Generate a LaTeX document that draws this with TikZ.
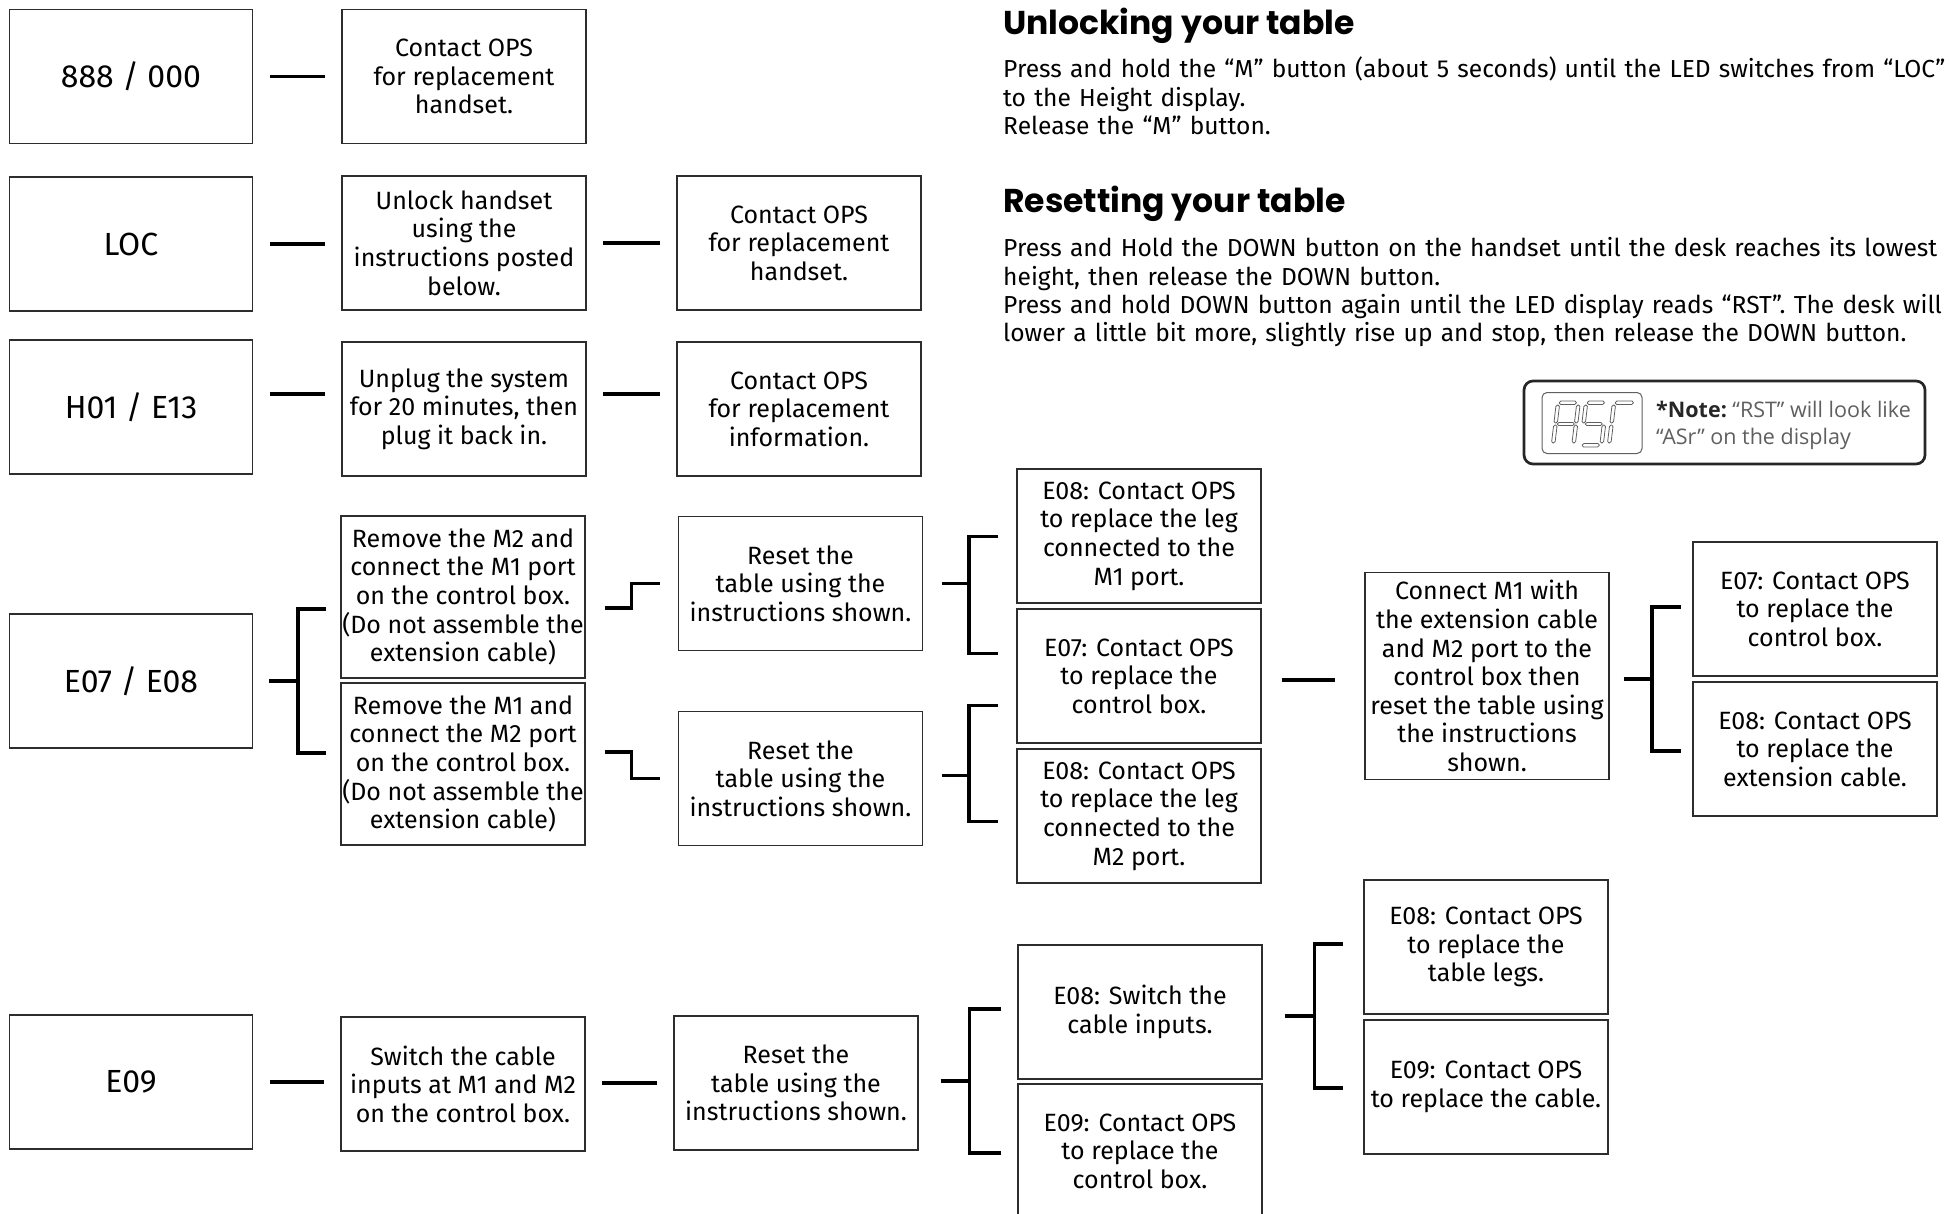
\documentclass[tikz,border=0pt]{standalone}
\usepackage{fontspec}
\setmainfont{Fira Sans}
\newfontfamily\notefont{Open Sans}
\newfontfamily\headfont{Poppins}
\usetikzlibrary{positioning,calc}

\begin{document}
\begin{tikzpicture}[x=1pt, y=-1pt,
    code/.style={draw=boxline, line width=1.3pt, minimum width=243pt, minimum height=134pt, inner sep=0pt, font=\fontsize{32}{36}\selectfont},
    task/.style={draw=boxline, line width=1.3pt, minimum width=244pt, minimum height=134pt, inner sep=0pt, align=center, font=\fontsize{25}{28.6}\selectfont},
    link/.style={line width=3.5pt, shorten <=16.5pt, shorten >=16.5pt},
    fork/.style={line width=3.5pt},
    head/.style={anchor=base west, inner sep=0pt, font=\headfont\bfseries\fontsize{33}{38}\selectfont},
    para/.style={anchor=base west, text width=1000pt, align=left, inner sep=0pt, font=\fontsize{24.6}{28.2}\selectfont}]
    % Colori
    \definecolor{boxline}{RGB}{45,45,45}
    \definecolor{notegray}{RGB}{95,95,95}

    \useasboundingbox (0,0) rectangle (1950,1214);

    % Codice 888 / 000
    \node[code] (c888) at (131,76.5) {888 / 000};
    \node[task] (ops888) at (464,76.5) {Contact OPS\\for replacement\\handset.};
    \draw[link] (c888.east) -- (c888.east -| ops888.west);

    % Codice LOC
    \node[code] (loc) at (131,244) {LOC};
    \node[task] (unlock) at (464,243) {Unlock handset\\using the\\instructions posted\\below.};
    \node[task] (opsloc) at (799,243) {Contact OPS\\for replacement\\handset.};
    \draw[link] (loc.east) -- (loc.east -| unlock.west);
    \draw[link] (unlock.east) -- (unlock.east -| opsloc.west);

    % Codice H01 / E13
    \node[code] (h01) at (131,407) {H01 / E13};
    \node[task] (unplug) at (464,409) {Unplug the system\\for 20 minutes, then\\plug it back in.};
    \node[task] (opsh01) at (799,409) {Contact OPS\\for replacement\\information.};
    \draw[link] ([yshift=13pt]h01.east) -- ([yshift=13pt]h01.east -| unplug.west);
    \draw[link] ([yshift=15pt]unplug.east) -- ([yshift=15pt]unplug.east -| opsh01.west);

    % Codice E07 / E08
    \node[code] (e0708) at (131,681) {E07 / E08};
    \node[task, minimum height=162pt] (rmM2) at (463,597) {Remove the M2 and\\connect the M1 port\\on the control box.\\(Do not assemble the\\extension cable)};
    \node[task, minimum height=162pt] (rmM1) at (463,764) {Remove the M1 and\\connect the M2 port\\on the control box.\\(Do not assemble the\\extension cable)};
    \draw[fork] ([xshift=16pt]e0708.east) -- ++(29,0) coordinate (j0708);
    \draw[fork] ($(j0708)+(28,-72)$) -- ++(-28,0) -- ++(0,144) -- ++(28,0);

    \node[task] (rst1) at (800.5,583.5) {Reset the\\table using the\\instructions shown.};
    \node[task] (rst2) at (800.5,778.5) {Reset the\\table using the\\instructions shown.};
    \draw[fork] ([xshift=19pt,yshift=-11pt]rmM2.east) -- ++(27,0) |- ([xshift=-18pt]rst1.west);
    \draw[fork] ([xshift=19pt,yshift=12pt]rmM1.east) -- ++(27,0) |- ([xshift=-18pt]rst2.west);

    \node[task] (legM1) at (1139,536) {E08: Contact OPS\\to replace the leg\\connected to the\\M1 port.};
    \node[task] (ctrl) at (1139,676) {E07: Contact OPS\\to replace the\\control box.};
    \node[task] (legM2) at (1139,816) {E08: Contact OPS\\to replace the leg\\connected to the\\M2 port.};
    \draw[fork] ([xshift=19pt]rst1.east) -- ++(27,0) coordinate (jr1);
    \draw[fork] ($(jr1)+(29,-47)$) -- ++(-29,0) -- ++(0,117) -- ++(29,0);
    \draw[fork] ([xshift=19pt,yshift=3pt]rst2.east) -- ++(27,0) coordinate (jr2);
    \draw[fork] ($(jr2)+(29,-70)$) -- ++(-29,0) -- ++(0,116) -- ++(29,0);

    \node[task, minimum height=207pt] (conn) at (1487,676) {Connect M1 with\\the extension cable\\and M2 port to the\\control box then\\reset the table using\\the instructions\\shown.};
    \draw[link, shorten <=20pt, shorten >=29pt] ([yshift=-4pt]ctrl.east) -- ([yshift=-4pt]ctrl.east -| conn.west);

    \node[task] (ctrlE07) at (1815,609) {E07: Contact OPS\\to replace the\\control box.};
    \node[task] (extE08) at (1815,749) {E08: Contact OPS\\to replace the\\extension cable.};
    \draw[fork] ([xshift=14pt,yshift=-3pt]conn.east) -- ++(28.5,0) coordinate (jc);
    \draw[fork] ($(jc)+(28.5,-72)$) -- ++(-28.5,0) -- ++(0,144) -- ++(28.5,0);

    % Codice E09
    \node[code] (e09) at (131,1082) {E09};
    \node[task] (swap) at (463,1084) {Switch the cable\\inputs at M1 and M2\\on the control box.};
    \node[task] (rst3) at (796,1083) {Reset the\\table using the\\instructions shown.};
    \draw[link] (e09.east) -- (e09.east -| swap.west);
    \draw[link] (rst3.west -| swap.east) -- (rst3.west);

    \node[task] (swE08) at (1140,1012) {E08: Switch the\\cable inputs.};
    \node[task] (ctrlE09) at (1140,1151) {E09: Contact OPS\\to replace the\\control box.};
    \draw[fork] ([xshift=22pt,yshift=2pt]rst3.east) -- ++(29,0) coordinate (jr3);
    \draw[fork] ($(jr3)+(31,-72)$) -- ++(-31,0) -- ++(0,144) -- ++(31,0);

    \node[task] (legs) at (1486,947) {E08: Contact OPS\\to replace the\\table legs.};
    \node[task] (cable) at (1486,1087) {E09: Contact OPS\\to replace the cable.};
    \draw[fork] ([xshift=22pt,yshift=-4pt]swE08.east) -- ++(30,0) coordinate (js);
    \draw[fork] ($(js)+(28,-72)$) -- ++(-28,0) -- ++(0,144) -- ++(28,0);

    % Istruzioni
    \node[head] (unlockhead) at (1003,35) {Unlocking your table};
    \node[para] (unlocktext) at (1003,78) {Press and hold the “M” button (about 5 seconds) until the LED switches from “LOC”\\to the Height display.\\Release the “M” button.};
    \node[head] (resethead) at (1003,213) {Resetting your table};
    \node[para] (resettext) at (1003,257) {Press and Hold the DOWN button on the handset until the desk reaches its lowest\\height, then release the DOWN button.\\Press and hold DOWN button again until the LED display reads “RST”. The desk will\\lower a little bit more, slightly rise up and stop, then release the DOWN button.};

    % Nota display
    \node[draw=black!85, line width=2.7pt, rounded corners=9pt, minimum width=401pt, minimum height=83pt] (note) at (1724.5,422.5) {};
    \node[draw=notegray, line width=1pt, rounded corners=5pt, minimum width=100pt, minimum height=61pt] (disp) at (1592,423) {};
    \begin{scope}[shift={(1551,447)}, xslant=0.12, color=notegray, line width=0.8pt, rounded corners=1.5pt]
        \foreach \xa/\ya/\xb/\yb in {3/-46/20/-42.5, 20.5/-42/24/-24, 20.5/-22/24/-4, 0/-22/3.5/-4, 0/-42/3.5/-24, 3.5/-24.5/20.5/-21.5,
            31/-46/48/-42.5, 28/-42/31.5/-24, 31.5/-24.5/48.5/-21.5, 48.5/-22/52/-4, 31/-3.5/48/0,
            59/-46/77/-42.5, 56/-42/59.5/-24, 56/-22/59.5/-4}
            \draw (\xa,\ya) rectangle (\xb,\yb);
    \end{scope}
    \node[anchor=west, align=left, inner sep=0pt, text=notegray, font=\notefont\fontsize{21.5}{27}\selectfont] (notetext) at (1656,425) {\textcolor{black!85}{\bfseries *Note:}~“RST” will look like\\“ASr” on the display};
\end{tikzpicture}
\end{document}
